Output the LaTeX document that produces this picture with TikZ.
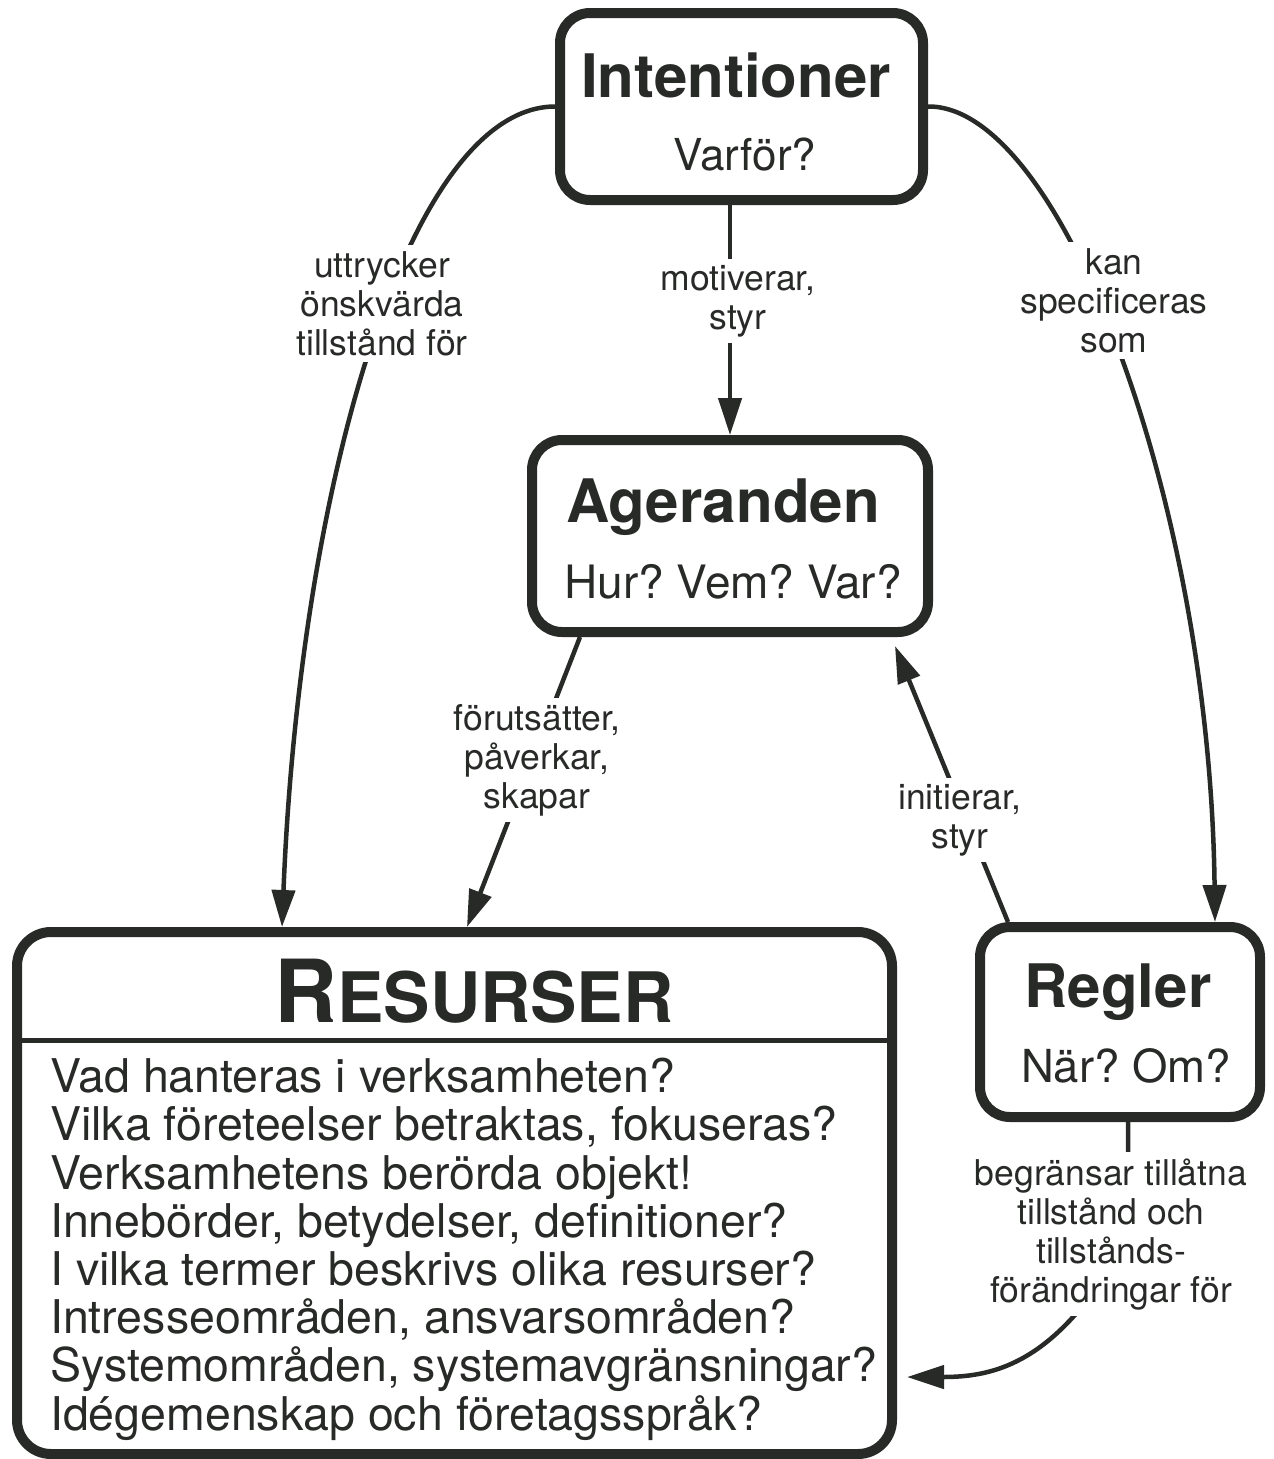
\documentclass[tikz,border=0pt]{standalone}
\usepackage{fontspec}
\setmainfont{TeX Gyre Heros}
\usetikzlibrary{arrows.meta}

\definecolor{ink}{RGB}{40,42,40}

\tikzset{
  box/.style={draw=ink, line width=10pt, rounded corners=30pt, inner sep=0pt},
  title/.style={font=\bfseries\fontsize{60}{66}\selectfont, text=ink, anchor=base},
  question/.style={font=\fontsize{#1}{50}\selectfont, text=ink, anchor=base},
  question/.default=45,
  % multi-line labels: the base anchor sits on the last line
  lbl/.style={font=\fontsize{35.5}{39}\selectfont, text=ink, align=center,
              fill=white, inner xsep=3pt, inner ysep=6pt, anchor=base},
  conn/.style={draw=ink, line width=4.5pt, -{Triangle[length=37pt,width=23pt]}}
}

\begin{document}
\frenchspacing
\begin{tikzpicture}[x=1pt, y=-1pt]
  \useasboundingbox (0,0) rectangle (1274,1459);

  % the four boxes
  \node[box, minimum width=363pt, minimum height=187pt] (int) at (741.5,106.5) {};
  \node[box, minimum width=396pt, minimum height=192pt] (age) at (730,536) {};
  \node[box, minimum width=280pt, minimum height=190pt] (reg) at (1120,1022) {};
  \node[box, minimum width=875pt, minimum height=522pt, rounded corners=34pt] (res) at (454.5,1193) {};

  % header rule inside the resource box
  \draw[draw=ink, line width=5pt] ([yshift=153pt]res.west) -- ([yshift=153pt]res.east);

  % box texts
  \node[title] (intT) at (736,97) {Intentioner};
  \node[question=44] (intQ) at (745,170) {Varför?};
  \node[title] (ageT) at (723,522) {Ageranden};
  \node[question=46] (ageQ) at (733,598) {Hur? Vem? Var?};
  \node[title] (regT) at (1118,1007) {Regler};
  \node[question=45.5] (regQ) at (1126,1082) {När? Om?};
  \node[font=\bfseries, text=ink, anchor=base] (resT) at (474,1022)
    {\fontsize{87}{90}\selectfont R\fontsize{69.6}{72}\selectfont ESURSER};
  \node[font=\fontsize{46.5}{48.2}\selectfont, text=ink, align=left,
        anchor=base west, inner sep=0pt] (resL) at (50,1430)
    {Vad hanteras i verksamheten?\\
     Vilka företeelser betraktas, fokuseras?\\
     Verksamhetens berörda objekt!\\
     Innebörder, betydelser, definitioner?\\
     I vilka termer beskrivs olika resurser?\\
     Intresseområden, ansvarsområden?\\
     Systemområden, systemavgränsningar?\\
     Idégemenskap och företagsspråk?};

  % connectors
  \draw[conn] (int.west) .. controls (410,107) and (300,480) .. ([xshift=-172.5pt]res.north);
  \draw[conn] (int.east) .. controls (1060,105) and (1210,500) .. ([xshift=95pt]reg.north);
  \draw[conn] (age.north |- int.south) -- (age.north);
  \draw[conn] ([xshift=-150pt]age.south) -- ([xshift=12.5pt]res.north);
  \draw[conn] ([xshift=-112pt]reg.north) -- ([xshift=165pt,yshift=-9pt]age.south);
  \draw[conn] ([xshift=8pt]reg.south) -- (1128,1250)
    .. controls (1128,1270) and (1110,1280) .. (1095,1290)
    .. controls (1040,1365) and (990,1377) .. ([xshift=10pt,yshift=-184pt]res.east);

  % connector labels
  \node[lbl] (l1) at (382,355) {uttrycker\\önskvärda\\tillstånd för};
  \node[lbl] (l2) at (1114,352) {kan\\specificeras\\som};
  \node[lbl] (l3) at (738,329) {motiverar,\\styr};
  \node[lbl] (l4) at (537,808) {förutsätter,\\påverkar,\\skapar};
  \node[lbl] (l5) at (960,848) {initierar,\\styr};
  \node[lbl] (l6) at (1111,1302) {begränsar tillåtna\\tillstånd och\\tillstånds-\\förändringar för};
\end{tikzpicture}
\end{document}
